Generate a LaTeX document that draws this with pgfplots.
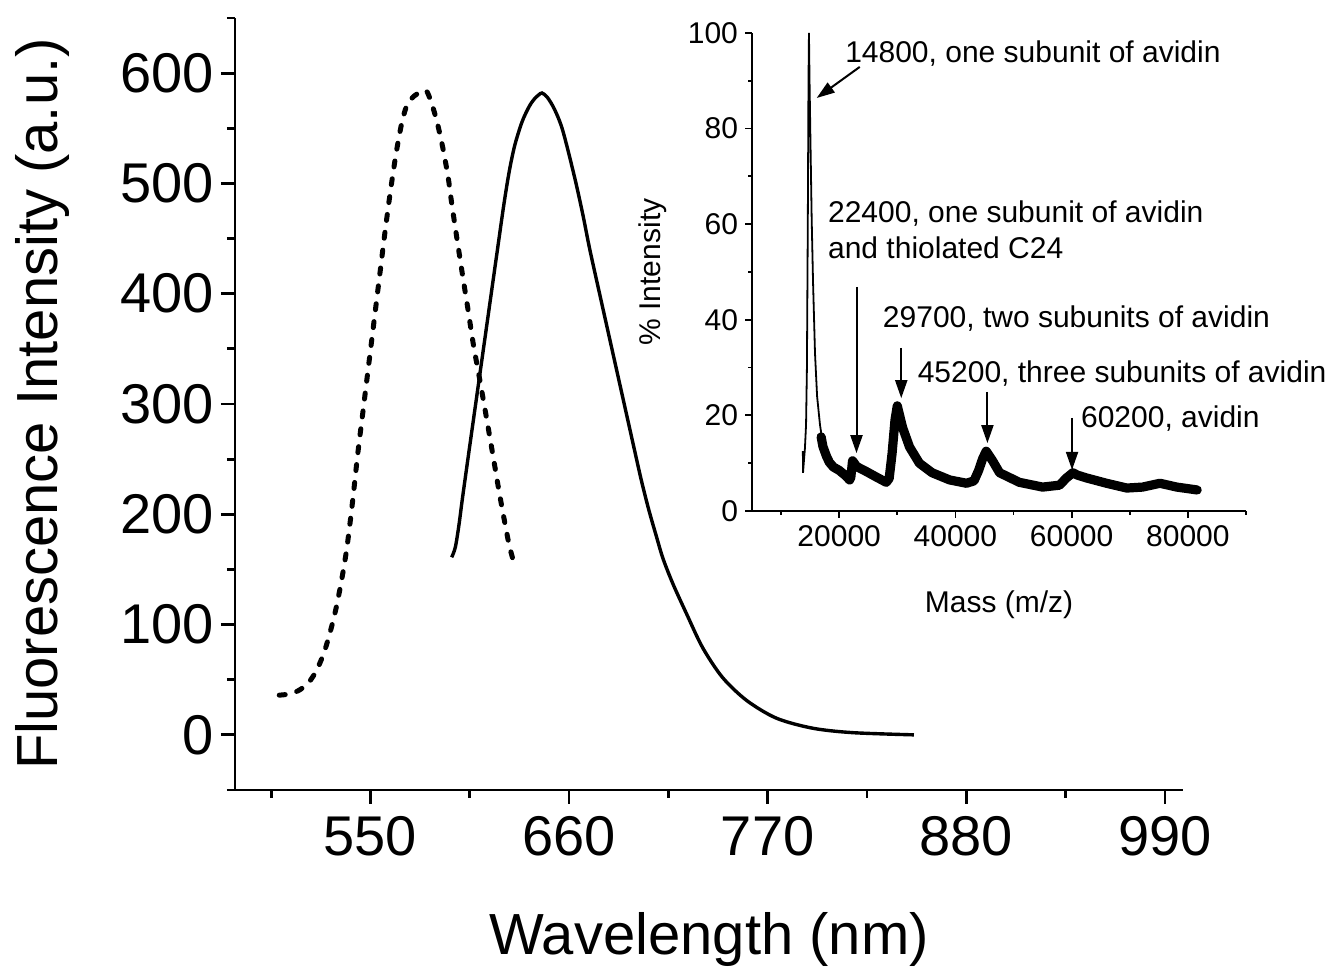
\documentclass[border=0pt]{standalone}
\usepackage{pgfplots}
\pgfplotsset{compat=1.18}
\usepackage{fontspec}
\setmainfont{Liberation Sans}
\usetikzlibrary{arrows.meta}

\begin{document}
\begin{tikzpicture}
\useasboundingbox (-117.5pt,-88.5pt) rectangle (548pt,395pt);

% main spectra
\begin{axis}[
  at={(0pt,0pt)}, anchor=south west,
  scale only axis, width=474pt, height=386pt,
  xmin=475, xmax=1000, ymin=-50, ymax=650,
  axis lines=left, axis line style={-, line width=1.4pt},
  xtick={550,660,770,880,990}, minor xtick={495,605,715,825,935},
  ytick={0,100,...,600}, minor ytick={-50,50,...,650},
  tick align=outside, major tick length=7pt, minor tick length=4pt,
  tick style={black, line width=1.4pt},
  /pgf/number format/assume math mode=true,
  tick label style={font=\fontsize{28}{32}\selectfont},
  xticklabel style={yshift=-2.5pt},
  xlabel={Wavelength (nm)},
  ylabel={Fluorescence Intensity (a.u.)},
  label style={font=\fontsize{29}{33}\selectfont},
  xlabel style={at={(axis description cs:0.5,-0.2137)}, anchor=base},
  ylabel style={at={(axis description cs:-0.1867,0.5)}, anchor=base},
  clip=false,
]
\addplot[black, line width=2.5pt, line cap=round, dash pattern=on 3pt off 6pt, smooth] coordinates {
  (499.5,36) (505,37) (510,40) (515,46) (519,55) (522,65) (525,78) (528,95)
  (531,115) (534,140) (537,170) (540,210) (543,255) (546,295) (549,335)
  (552,375) (555,415) (558,455) (561,492) (564,525) (567,552) (570,570)
  (574,579) (578,583) (581,584) (584,572) (587,555) (590,533) (593,506)
  (595,482) (598,449) (601,417) (604,386) (607,354) (610,327) (614,290)
  (618,252) (621,223) (624,196) (627,171) (630,153)
};
\addplot[black, line width=1.7pt, smooth] coordinates {
  (595,161) (597,170) (599,190) (601,215) (605,262) (610,320) (615,378)
  (620,436) (624,482) (627,512) (630,535) (634,556) (638,570) (641,577)
  (643,580) (645,582) (648,578) (652,567) (656.5,548) (663,506) (667.6,472)
  (671.5,440) (678,392) (684,348) (690,304) (696,260) (700,231) (704,205)
  (708,182) (712,160) (717.5,137) (725,110) (734,79) (745,52) (758.5,31)
  (775,15) (795,6) (817,2) (851,0)
};
\end{axis}

% inset: mass spectrum
\begin{axis}[
  at={(258.5pt,139.5pt)}, anchor=south west,
  scale only axis, width=247pt, height=239pt,
  xmin=5000, xmax=90000, ymin=0, ymax=100,
  axis lines=left, axis line style={-, line width=1pt},
  xtick={20000,40000,60000,80000}, minor xtick={10000,30000,...,90000},
  ytick={0,20,...,100}, minor ytick={10,30,...,90},
  tick align=outside, major tick length=3.5pt, minor tick length=2pt,
  tick style={black, line width=0.9pt},
  scaled x ticks=false,
  /pgf/number format/.cd, 1000 sep={}, assume math mode=true, /pgfplots/.cd,
  tick label style={font=\fontsize{15}{18}\selectfont},
  xlabel={Mass (m/z)},
  ylabel={\% Intensity},
  label style={font=\fontsize{15}{18}\selectfont},
  xlabel style={at={(axis description cs:0.5,-0.213)}, anchor=base},
  ylabel style={at={(axis description cs:-0.186,0.5)}, anchor=base},
  clip=false,
]
\addplot[black, line width=0.9pt] coordinates {
  (13750,12.5) (13780,8) (13900,10) (14100,13) (14300,18) (14450,30) (14600,60)
  (14720,90) (14800,100) (14900,90) (15050,78) (15270,61) (15500,48) (15840,33)
  (16200,24) (16700,18) (17200,14)
};
\addplot[black, line width=4.6pt, line join=round, line cap=round] coordinates {
  (16900,15.5) (17200,13.5) (17800,11.5) (18300,10.2) (19000,9.2) (20000,8.5)
  (21000,7.5) (21800,6.5) (22000,7) (22300,10.5) (22600,10) (23000,9.3)
  (24600,8.3) (26400,7.1) (28100,6) (28600,6.8) (29100,12) (29600,19)
  (30000,22) (30500,19.5) (30900,17.5) (32100,13.4) (33800,10) (36000,8)
  (39000,6.5) (41900,5.8) (43200,6.3) (44000,8.5) (44700,11) (45300,12.5)
  (46400,10.5) (47600,8) (48800,7.3) (51000,6) (55000,5) (57900,5.4)
  (59100,6.9) (60200,8) (61000,7.5) (62600,6.9) (66000,5.8) (69500,4.8)
  (72200,5) (75200,5.8) (78100,5) (81600,4.4)
};
\begin{scope}[line width=1pt, -{Triangle[length=9pt,width=6pt]}]
  \draw (axis cs:23540,92.9) -- (axis cs:16130,86.4);
  \draw (axis cs:22980,46.9) -- (axis cs:22980,12.1);
  \draw (axis cs:30680,34.1) -- (axis cs:30680,23.6);
  \draw (axis cs:45510,24.9) -- (axis cs:45510,14.2);
  \draw (axis cs:60070,19.5) -- (axis cs:60070,8.6);
\end{scope}
\begin{scope}[every node/.style={anchor=base west, inner sep=0pt, font=\fontsize{15}{18}\selectfont}]
  \node at (axis cs:20980,93.9) {14800, one subunit of avidin};
  \node at (axis cs:18030,60.3) {22400, one subunit of avidin};
  \node at (axis cs:18030,52.9) {and thiolated C24};
  \node at (axis cs:27470,38.3) {29700, two subunits of avidin};
  \node at (axis cs:33460,26.8) {45200, three subunits of avidin};
  \node at (axis cs:61560,17.4) {60200, avidin};
\end{scope}
\end{axis}
\end{tikzpicture}
\end{document}
